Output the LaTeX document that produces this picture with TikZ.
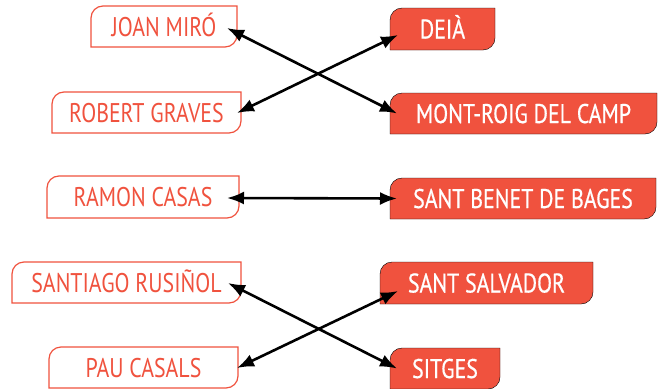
\documentclass[tikz,border=0pt]{standalone}
\usepackage{fontspec}
\setmainfont[FakeStretch=0.81]{PT Sans}
\newfontfamily\whitefont[FakeStretch=0.81,FakeBold=0.6]{PT Sans}
\usetikzlibrary{arrows.meta}
\definecolor{redc}{RGB}{240,82,62}
\pgfdeclarelayer{bg}
\pgfsetlayers{bg,main}
\newcommand\tabshape[2]{%
  \begin{pgfonlayer}{bg}
  \draw[#2] (#1.north east) -- ([xshift=12pt]#1.north west)
    arc[start angle=90,end angle=180,radius=12pt] -- (#1.south west)
    -- ([xshift=-12pt]#1.south east)
    arc[start angle=270,end angle=360,radius=12pt] -- cycle;
  \end{pgfonlayer}}
\begin{document}
\begin{tikzpicture}[x=1pt,y=-1pt,
  box/.style={inner sep=0pt, outer sep=0pt, text height=19pt, text depth=0pt},
  lbox/.style={box, text=redc, font=\fontsize{27}{27}\selectfont},
  rbox/.style={box, text=white, font=\whitefont\fontsize{27}{27}\selectfont},
  lshape/.style={draw=redc, line width=1.2pt, fill=white},
  rshape/.style={fill=redc},
  conn/.style={line width=2.6pt, {Latex[length=17pt,width=13pt]}-{Latex[length=17pt,width=13pt]}},
]
\useasboundingbox (0,0) rectangle (658,388);
% left boxes
\node[lbox, minimum width=146pt, minimum height=41pt] (joan) at (164,26.5) {JOAN MIRÓ};
\node[lbox, minimum width=189pt, minimum height=41pt] (robert) at (146.5,112.5) {ROBERT GRAVES};
\node[lbox, minimum width=192pt, minimum height=42pt] (ramon) at (143,197) {RAMON CASAS};
\node[lbox, minimum width=229pt, minimum height=41pt] (santiago) at (126.5,282.5) {SANTIAGO RUSIÑOL};
\node[lbox, minimum width=189pt, minimum height=41pt] (pau) at (143.5,367.5) {PAU CASALS};
% right boxes
\node[rbox, minimum width=105pt, minimum height=42pt] (deia) at (442.5,29) {DEIÀ};
\node[rbox, minimum width=267pt, minimum height=41pt] (mont) at (523.5,113.5) {MONT-ROIG DEL CAMP};
\node[rbox, minimum width=266pt, minimum height=41pt] (benet) at (523,198.5) {SANT BENET DE BAGES};
\node[rbox, minimum width=213pt, minimum height=42pt] (salvador) at (486.5,283) {SANT SALVADOR};
\node[rbox, minimum width=110pt, minimum height=41pt] (sitges) at (445,368.5) {SITGES};
% shapes
\tabshape{joan}{lshape}
\tabshape{robert}{lshape}
\tabshape{ramon}{lshape}
\tabshape{santiago}{lshape}
\tabshape{pau}{lshape}
\tabshape{deia}{rshape}
\tabshape{mont}{rshape}
\tabshape{benet}{rshape}
\tabshape{salvador}{rshape}
\tabshape{sitges}{rshape}
% connectors
\draw[conn] ([shift={(-10,1.5)}]joan.east) -- ([shift={(7,0)}]mont.west);
\draw[conn] ([shift={(-4,0.5)}]robert.east) -- ([shift={(8,6)}]deia.west);
\draw[conn] ([shift={(-12,1)}]ramon.east) -- ([shift={(7,0)}]benet.west);
\draw[conn] ([shift={(-13,0.5)}]santiago.east) -- ([shift={(7,0)}]sitges.west);
\draw[conn] ([shift={(-1,0.5)}]pau.east) -- ([shift={(18,8)}]salvador.west);
\end{tikzpicture}
\end{document}
